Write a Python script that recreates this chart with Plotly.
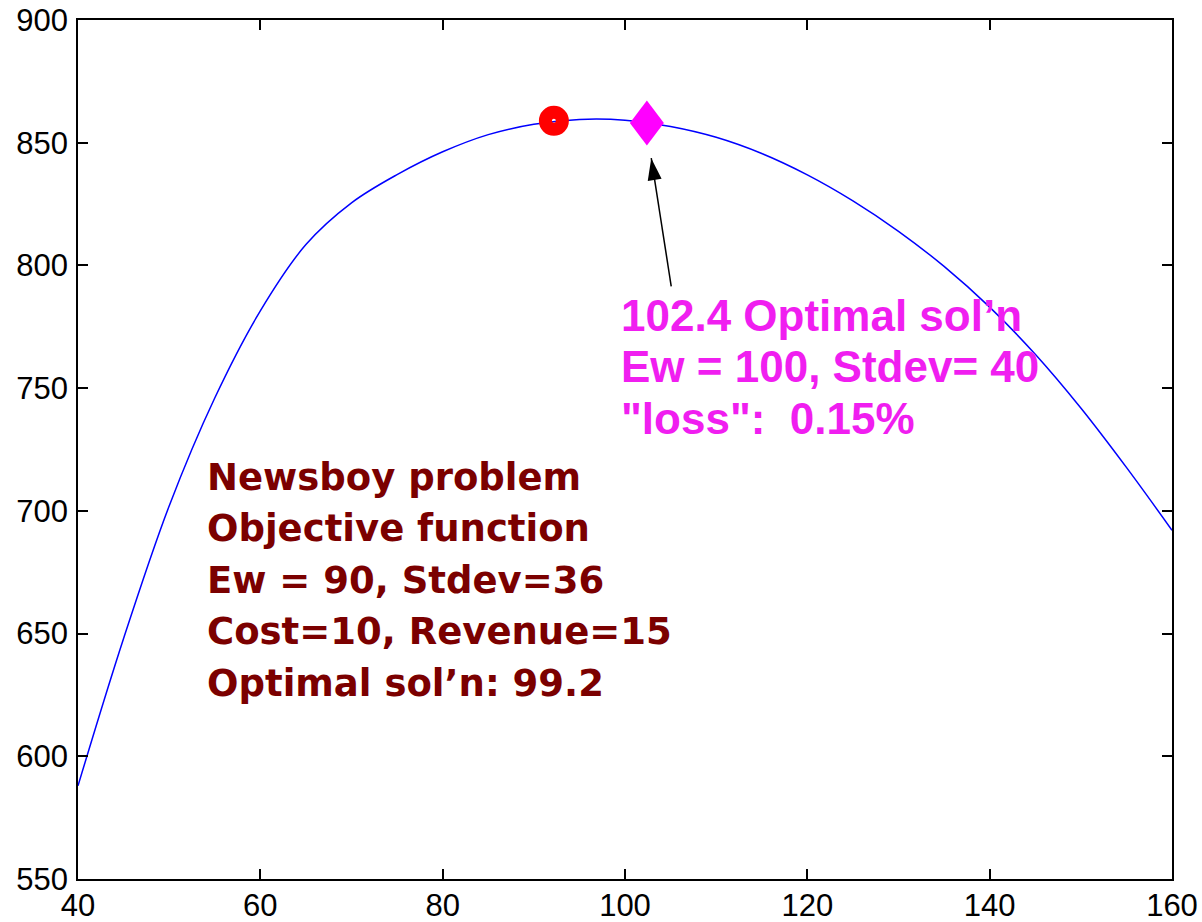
import numpy as np
import plotly.graph_objects as go

# Expected profit curve of the newsboy problem (order quantity vs objective)
order_qty = [40, 45, 50, 55, 60, 65, 70, 75, 80, 85, 90, 95, 100,
             105, 110, 115, 120, 125, 130, 135, 140, 145, 150, 155, 160]
objective = [588, 648, 702, 746, 781.5, 808.5, 825.5, 837, 846.3, 853.3, 857.5, 859.5, 859.2,
             856.6, 852.2, 845.6, 836.9, 826.3, 813.9, 799.6, 783.0, 763.8, 741.9, 717.7, 692.1]

# Optimum of the true model, and the solution found with the mis-specified demand
true_opt_x, true_opt_y = 92.2, 858.9
alt_opt_x, alt_opt_y = 102.4, 858.0

# Arrow from the annotation text to the alternative optimum
arrow_tail = (105.07, 791.5)
arrow_tip = (102.88, 843.7)

x_range = [40, 160]
y_range = [550, 900]
x_ticks = [40, 60, 80, 100, 120, 140, 160]
y_ticks = [550, 600, 650, 700, 750, 800, 850, 900]

brown_lines = ["Newsboy problem", "Objective function", "Ew = 90, Stdev=36",
               "Cost=10, Revenue=15", "Optimal sol\u2019n: 99.2"]
magenta_lines = ["102.4 Optimal sol\u2019n", "Ew = 100, Stdev= 40", "\"loss\":  0.15%"]

W, H = 1202, 922
ML, MR, MT, MB = 78, 30, 20, 43
plot_w = W - ML - MR
plot_h = H - MT - MB
kx = plot_w / (x_range[1] - x_range[0])
ky = plot_h / (y_range[1] - y_range[0])

fig = go.Figure()

fig.add_trace(go.Scatter(
    x=order_qty, y=objective, mode="lines",
    line=dict(color="#0000FF", width=1.5, shape="spline", smoothing=1.0),
    hoverinfo="skip", showlegend=False))

fig.add_trace(go.Scatter(
    x=[true_opt_x], y=[true_opt_y], mode="markers",
    marker=dict(symbol="circle-open", size=17, color="#FF0000",
                line=dict(width=13, color="#FF0000")),
    showlegend=False))

shapes = []

# Diamond marker for the alternative optimum (pixel-sized, anchored at the data point)
shapes.append(dict(
    type="path", xref="x", yref="y", xsizemode="pixel", ysizemode="pixel",
    xanchor=alt_opt_x, yanchor=alt_opt_y,
    path="M 0,22.5 L 17,0 L 0,-22.5 L -17,0 Z",
    fillcolor="#FF00FF", line=dict(width=0), layer="above"))

# Arrow shaft
shapes.append(dict(
    type="line", xref="x", yref="y",
    x0=arrow_tail[0], y0=arrow_tail[1], x1=arrow_tip[0], y1=arrow_tip[1],
    line=dict(color="black", width=1.5), layer="above"))

# Arrow head, built in screen pixels along the shaft direction
dx = (arrow_tail[0] - arrow_tip[0]) * kx
dy = (arrow_tail[1] - arrow_tip[1]) * ky
norm = np.hypot(dx, dy)
ux, uy = dx / norm, dy / norm
head_len, head_half = 22.0, 7.0
bx, by = ux * head_len, uy * head_len
px, py = -uy * head_half, ux * head_half
shapes.append(dict(
    type="path", xref="x", yref="y", xsizemode="pixel", ysizemode="pixel",
    xanchor=arrow_tip[0], yanchor=arrow_tip[1],
    path=f"M 0,0 L {bx + px:.2f},{by + py:.2f} L {bx - px:.2f},{by - py:.2f} Z",
    fillcolor="black", line=dict(width=0), layer="above"))

annotations = []
brown_y = [713.6, 692.7, 671.7, 650.7, 629.7]
for txt, yy in zip(brown_lines, brown_y):
    annotations.append(dict(
        x=53.9, y=yy, xref="x", yref="y", text=txt, showarrow=False,
        xanchor="left", yanchor="middle",
        font=dict(family="DejaVu Sans", size=37, color="#7B0000", weight="bold")))

magenta_y = [779.5, 758.9, 737.7]
for txt, yy in zip(magenta_lines, magenta_y):
    annotations.append(dict(
        x=99.3, y=yy, xref="x", yref="y", text=txt, showarrow=False,
        xanchor="left", yanchor="middle",
        font=dict(family="Liberation Sans, Arial", size=44, color="#F01EF0", weight="bold")))

axis_common = dict(
    showline=True, linecolor="black", linewidth=1.5, mirror="ticks",
    ticks="inside", ticklen=10, tickwidth=1.5, tickcolor="black",
    showgrid=False, zeroline=False, automargin=False,
    tickfont=dict(family="Liberation Sans, Arial", size=31, color="black"))

fig.update_layout(
    width=W, height=H,
    margin=dict(l=ML, r=MR, t=MT, b=MB, pad=0, autoexpand=False),
    paper_bgcolor="white", plot_bgcolor="white",
    xaxis=dict(range=x_range, tickvals=x_ticks, ticklabelstandoff=-2, **axis_common),
    yaxis=dict(range=y_range, tickvals=y_ticks, ticklabelstandoff=2, **axis_common),
    shapes=shapes, annotations=annotations, showlegend=False)

fig.write_html("out.html")
